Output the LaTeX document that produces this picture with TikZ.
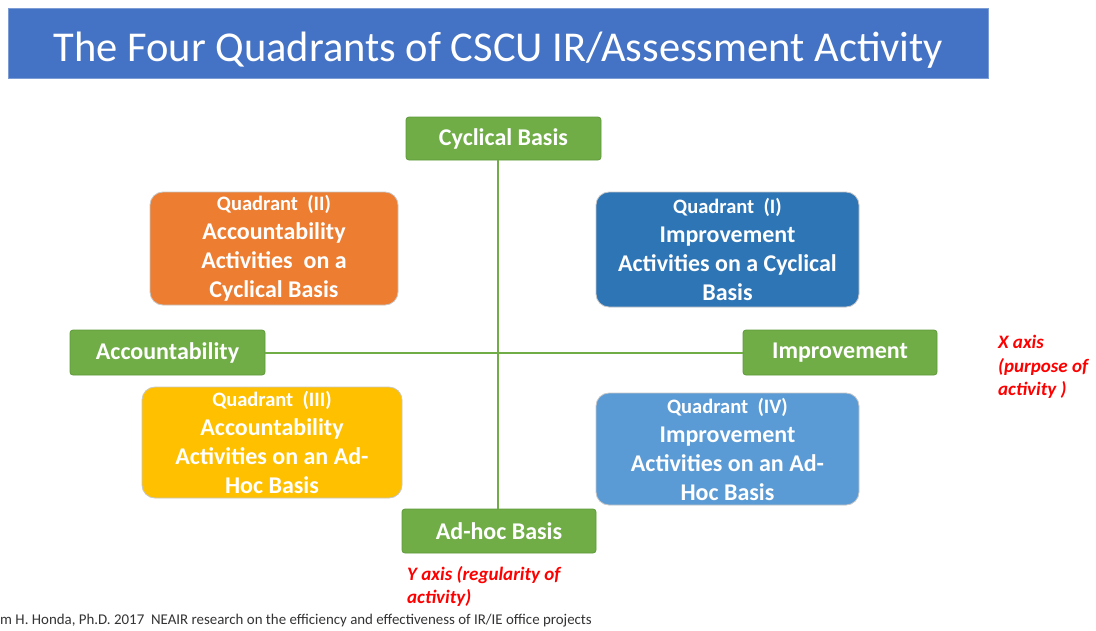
\documentclass[tikz,border=0pt]{standalone}
\usepackage{fontspec}
\setmainfont{Carlito}
\definecolor{titleblue}{HTML}{4472C4}
\definecolor{axisgreen}{HTML}{70AD47}
\definecolor{axisgreenedge}{HTML}{5E9A3A}
\definecolor{qorange}{HTML}{ED7D31}
\definecolor{qdarkblue}{HTML}{2E75B6}
\definecolor{qyellow}{HTML}{FFC000}
\definecolor{qlightblue}{HTML}{5B9BD5}
\definecolor{labelred}{HTML}{FF0000}
\newcommand\quadhead[1]{{\fontsize{20.5}{22}\selectfont #1}}
\begin{document}
\begin{tikzpicture}[x=1pt,y=-1pt,
  axisbox/.style={draw=axisgreenedge, line width=0.8pt, fill=axisgreen, rounded corners=3pt,
    text=white, font=\fontsize{24}{26}\selectfont\bfseries, inner sep=0pt},
  quadbox/.style={draw=gray!45, line width=0.8pt, rounded corners=13pt, text=white,
    inner sep=0pt, align=center, font=\fontsize{24}{29}\selectfont\bfseries},
  axisline/.style={draw=axisgreen, line width=2pt},
  axislabel/.style={text=labelred, font=\fontsize{19}{23.5}\selectfont\bfseries\itshape, align=left, inner sep=0pt}
]
\useasboundingbox (0,0) rectangle (1096,630);

% title banner
\node[fill=titleblue, draw=titleblue!70, minimum width=980pt, minimum height=70pt, inner sep=0pt] (title) at (498,43) {};
\node[text=white, font=\fontsize{42.5}{46}\selectfont, inner sep=0pt] (titletext) at (498.5,50)
  {The Four Quadrants of CSCU IR/Assessment Activity};

% axis end boxes
\node[axisbox, minimum width=195pt, minimum height=43pt] (cyc) at (503.5,138.5) {Cyclical Basis};
\node[axisbox, minimum width=195pt, minimum height=45pt] (acc) at (167.5,352.5) {Accountability};
\node[axisbox, minimum width=194pt, minimum height=45pt] (imp) at (840,352.5) {Improvement};
\node[axisbox, minimum width=194pt, minimum height=44pt] (adh) at (499,531) {Ad-hoc Basis};

% axes
\coordinate (vx) at (498,0);
\draw[axisline] (cyc.south -| vx) -- (adh.north -| vx);
\draw[axisline] (acc.east) -- (imp.west);

% quadrants
\node[quadbox, fill=qorange, minimum width=248pt, minimum height=113pt] (q2) at (274,248.5)
  {\quadhead{Quadrant\ \ (II)}\\Accountability\\Activities\ \ on a\\Cyclical Basis};
\node[quadbox, fill=qdarkblue, minimum width=263pt, minimum height=115pt] (q1) at (727.5,249.5)
  {\quadhead{Quadrant\ \ (I)}\\Improvement\\Activities on a Cyclical\\Basis};
\node[quadbox, fill=qyellow, minimum width=260pt, minimum height=111pt] (q3) at (272,442.5)
  {\quadhead{Quadrant\ \ (III)}\\Accountability\\Activities on an Ad-\\Hoc Basis};
\node[quadbox, fill=qlightblue, minimum width=263pt, minimum height=112pt] (q4) at (727.5,449)
  {\quadhead{Quadrant\ \ (IV)}\\Improvement\\Activities on an Ad-\\Hoc Basis};

% axis captions
\node[axislabel, anchor=north west] (xlab) at (998,335) {X axis\\(purpose of\\activity )};
\node[axislabel, anchor=north west] (ylab) at (407,566) {Y axis (regularity of\\activity)};

% source line
\node[anchor=west, inner sep=0pt, text=black!80, font=\fontsize{14.9}{16}\selectfont] (src) at (0,621)
  {m H. Honda, Ph.D. 2017\ \ NEAIR research on the efficiency and effectiveness of IR/IE office projects};
\end{tikzpicture}
\end{document}
